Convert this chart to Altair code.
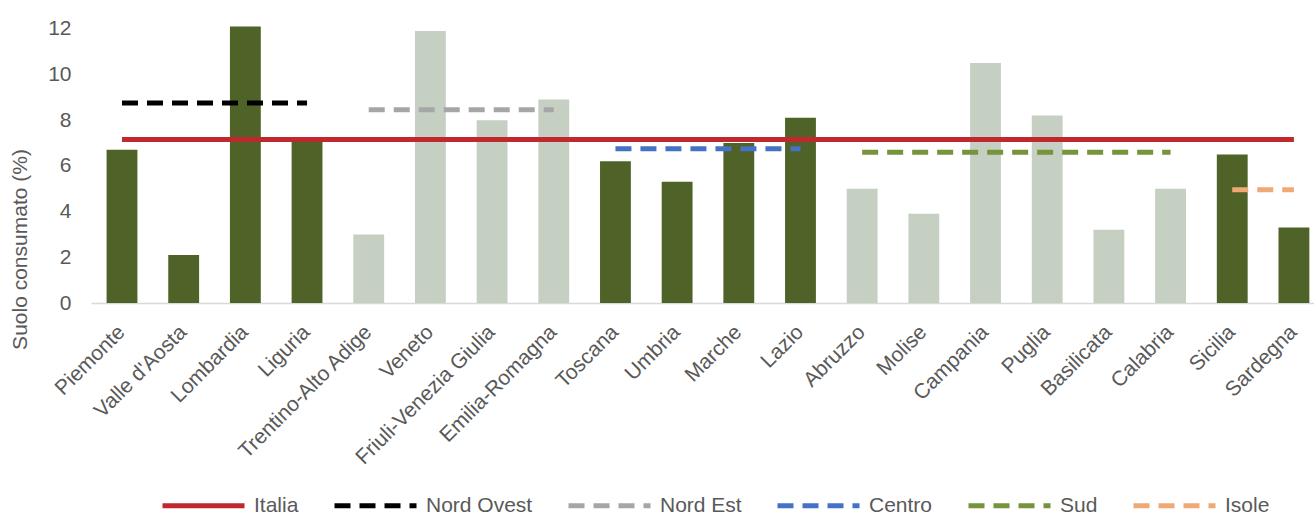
import altair as alt
import pandas as pd

# ---- data ----
regions = ["Piemonte", "Valle d'Aosta", "Lombardia", "Liguria", "Trentino-Alto Adige",
           "Veneto", "Friuli-Venezia Giulia", "Emilia-Romagna", "Toscana", "Umbria",
           "Marche", "Lazio", "Abruzzo", "Molise", "Campania", "Puglia", "Basilicata",
           "Calabria", "Sicilia", "Sardegna"]
values = [6.7, 2.1, 12.1, 7.1, 3.0, 11.9, 8.0, 8.9, 6.2, 5.3,
          7.0, 8.1, 5.0, 3.9, 10.5, 8.2, 3.2, 5.0, 6.5, 3.3]
macro = ["Nord Ovest"] * 4 + ["Nord Est"] * 4 + ["Centro"] * 4 + ["Sud"] * 6 + ["Isole"] * 2

groups = ["Italia", "Nord Ovest", "Nord Est", "Centro", "Sud", "Isole"]
group_values = [7.15, 8.75, 8.45, 6.75, 6.6, 4.95]
y_ticks = [0, 2, 4, 6, 8, 10, 12]

# ---- styles ----
dark = "#4f6228"
light = "#c5d0c3"
shade = {"Nord Ovest": "dark", "Nord Est": "light", "Centro": "dark", "Sud": "light", "Isole": "dark"}
line_colors = ["#c0282d", "#000000", "#a6a6a6", "#4472c4", "#77933c", "#f0a874"]
dash = [16, 9]
line_dashes = [[1, 0], dash, dash, dash, dash, dash]
text_grey = "#595959"
font = "Liberation Sans"

bars_df = pd.DataFrame({
    "regione": regions,
    "valore": values,
    "tono": [shade[m] for m in macro],
})

rows = []
for g, v in zip(groups, group_values):
    for r, m in zip(regions, macro):
        if g == "Italia" or g == m:
            rows.append({"regione": r, "gruppo": g, "valore": v})
lines_df = pd.DataFrame(rows)

x_enc = alt.X(
    "regione:N",
    sort=regions,
    scale=alt.Scale(paddingInner=0.5, paddingOuter=0.164, align=0.77),
    axis=alt.Axis(
        title=None, labelAngle=-45, labelFontSize=21, labelColor=text_grey, labelFont=font,
        ticks=False, domainColor="#d9d9d9", domainWidth=1.5, labelPadding=18, labelOffset=-8,
        labelLimit=0,
    ),
)
y_scale = alt.Scale(domain=[0, 12.25], nice=False)

bars = alt.Chart(bars_df).mark_bar().encode(
    x=x_enc,
    y=alt.Y(
        "valore:Q",
        scale=y_scale,
        axis=alt.Axis(
            title="Suolo consumato (%)", values=y_ticks, grid=False, ticks=False, domain=False,
            labelFontSize=21, labelColor=text_grey, labelFont=font, labelPadding=20,
            titleFontSize=21, titleColor=text_grey, titleFont=font, titleFontWeight="normal",
            titleX=-71, titleY=226, titleAngle=270, titleAlign="center", titleBaseline="middle",
        ),
    ),
    color=alt.condition(alt.datum.tono == "dark", alt.value(dark), alt.value(light)),
)

legend = alt.Legend(
    title=None, orient="none", legendX=69, legendY=439, direction="horizontal",
    symbolType="stroke", symbolSize=6724, symbolStrokeWidth=5,
    labelFontSize=21, labelColor=text_grey, labelFont=font, labelOffset=7, columnPadding=25,
)

lines = alt.Chart(lines_df).mark_line(strokeWidth=5).encode(
    x=alt.X("regione:N", sort=regions),
    y=alt.Y("valore:Q", scale=y_scale),
    color=alt.Color("gruppo:N", scale=alt.Scale(domain=groups, range=line_colors), legend=legend),
    strokeDash=alt.StrokeDash("gruppo:N", scale=alt.Scale(domain=groups, range=line_dashes), legend=legend),
    detail="gruppo:N",
)

chart = alt.layer(bars, lines).properties(
    width=1223, height=280,
    padding={"left": 91, "top": 23, "right": 0, "bottom": 215},
    autosize=alt.AutoSizeParams(type="none"),
).configure_view(stroke=None)

chart.save("out.html", embed_options={"renderer": "svg", "actions": False})
